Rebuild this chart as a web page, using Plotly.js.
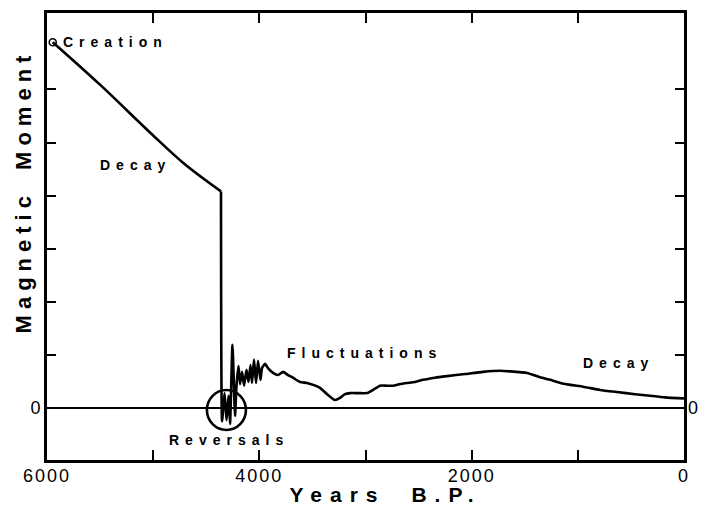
<!DOCTYPE html>
<html>
<head>
<meta charset="utf-8">
<script src="https://cdn.plot.ly/plotly-3.0.1.min.js"></script>
<style>
  html, body { margin: 0; padding: 0; background: #ffffff; }
  #plot { width: 702px; height: 508px; }
</style>
</head>
<body>
<div id="plot"></div>
<script>
// Years before present (x) and magnetic moment (y)
const years = [
  5946, 5501, 5030, 4719, 4361,
  4351, 4328, 4309, 4290, 4276, 4253, 4229,
  4215, 4196, 4182, 4163, 4144, 4121, 4102, 4083, 4069, 4050, 4031, 4012, 3989,
  3975, 3946, 3918, 3871, 3824, 3777, 3730, 3683, 3617, 3551, 3485, 3428, 3362,
  3287, 3240, 3193, 3146, 3070, 2986, 2929, 2863, 2797, 2741, 2675, 2609, 2533,
  2458, 2345, 2232, 2062, 1893, 1733, 1639, 1478, 1356, 1262, 1120, 951, 791,
  631, 461, 320, 178, 0
];
const moment = [
  6.89, 6.09, 5.19, 4.62, 4.08,
  -0.25, 0.28, -0.23, 0.23, -0.30, 1.19, -0.15,
  0.43, 0.79, 0.45, 0.68, 0.42, 0.72, 0.49, 0.81, 0.47, 0.91, 0.47, 0.89, 0.53,
  0.75, 0.83, 0.75, 0.66, 0.62, 0.68, 0.62, 0.57, 0.49, 0.47, 0.43, 0.38, 0.26,
  0.15, 0.19, 0.26, 0.28, 0.28, 0.28, 0.34, 0.42, 0.42, 0.42, 0.45, 0.47, 0.49,
  0.53, 0.57, 0.60, 0.64, 0.68, 0.70, 0.69, 0.66, 0.58, 0.53, 0.45, 0.40, 0.34,
  0.30, 0.26, 0.23, 0.20, 0.18
];
// index where the initial decay ends and the collapse begins
const decayEnd = 4;

// Axis ticks
const xTickVals = [6000, 5000, 4000, 3000, 2000, 1000, 0];
const xTickText = ['6000', '', '4000', '', '2000', '', '0'];
const yTickVals = [0, 1, 2, 3, 4, 5, 6];
const yTickText = ['0', '', '', '', '', '', ''];

// Text labels
const labels = [
  {text: 'Creation', x: 5359, y: 6.89},
  {text: 'Decay', x: 5171, y: 4.58},
  {text: 'Fluctuations', x: 3014, y: 1.04},
  {text: 'Decay', x: 621, y: 0.85},
  {text: 'Reversals', x: 4286, y: -0.60}
];
const reversalCenterYear = 4310;

const FONT = 'Liberation Sans, Arial, Helvetica, sans-serif';

const data = [
  {
    type: 'scatter', mode: 'lines',
    x: years.slice(0, decayEnd + 1), y: moment.slice(0, decayEnd + 1),
    line: {color: '#000000', width: 2.6, shape: 'spline', smoothing: 1},
    hoverinfo: 'skip', showlegend: false
  },
  {
    type: 'scatter', mode: 'lines',
    x: years.slice(decayEnd), y: moment.slice(decayEnd),
    line: {color: '#000000', width: 2.6, shape: 'spline', smoothing: 0.5},
    hoverinfo: 'skip', showlegend: false
  },
  {
    type: 'scatter', mode: 'markers',
    x: [years[0]], y: [moment[0]],
    marker: {symbol: 'circle-open', size: 7, color: '#000000', line: {width: 1.6, color: '#000000'}},
    hoverinfo: 'skip', showlegend: false
  }
];

const annotations = labels.map(l => ({
  text: l.text, x: l.x, y: l.y, xref: 'x', yref: 'y',
  xanchor: 'center', yanchor: 'middle', showarrow: false,
  font: {family: FONT, size: 14, color: '#000000', weight: 'bold'}
}));
annotations.push({
  text: '0', x: 1, y: 0, xref: 'paper', yref: 'y',
  xanchor: 'left', yanchor: 'middle', xshift: 2, showarrow: false,
  font: {family: FONT, size: 18, color: '#000000'}
});

const layout = {
  width: 702, height: 508,
  margin: {l: 47, r: 18, t: 13, b: 48, pad: 0},
  paper_bgcolor: '#ffffff', plot_bgcolor: '#ffffff',
  showlegend: false,
  xaxis: {
    range: [6000, 0],
    tickvals: xTickVals, ticktext: xTickText,
    ticks: 'inside', ticklen: 10, tickwidth: 2, tickcolor: '#000000',
    showline: true, linewidth: 3, linecolor: '#000000', mirror: 'ticks',
    showgrid: false, zeroline: false,
    ticklabelstandoff: -3,
    tickfont: {family: FONT, size: 18, color: '#000000'},
    title: {text: 'Years B.P.', font: {family: FONT, size: 21, color: '#000000', weight: 'bold'}, standoff: 6},
    automargin: false, fixedrange: true
  },
  yaxis: {
    range: [-0.98, 7.44],
    tickvals: yTickVals, ticktext: yTickText,
    ticks: 'inside', ticklen: 9, tickwidth: 2, tickcolor: '#000000',
    showline: true, linewidth: 3, linecolor: '#000000', mirror: 'ticks',
    showgrid: false, zeroline: true, zerolinecolor: '#000000', zerolinewidth: 1.4,
    tickfont: {family: FONT, size: 18, color: '#000000'},
    title: {text: 'Magnetic Moment', font: {family: FONT, size: 22, color: '#000000', weight: 'bold'}, standoff: 4},
    automargin: false, fixedrange: true
  },
  shapes: [
    {
      type: 'circle', xref: 'x', yref: 'y',
      xsizemode: 'pixel', ysizemode: 'pixel',
      xanchor: reversalCenterYear, yanchor: 0,
      x0: -19.5, x1: 19.5, y0: -22, y1: 18,
      line: {color: '#000000', width: 2.6}
    }
  ],
  annotations: annotations
};

const gd = document.getElementById('plot');
Plotly.newPlot(gd, data, layout, {staticPlot: true, displayModeBar: false}).then(() => {
  gd.querySelectorAll('.annotation-text').forEach(t => {
    if (t.textContent !== '0') t.style.letterSpacing = '6px';
  });
  gd.querySelectorAll('.xtick text').forEach(t => { t.style.letterSpacing = '2px'; });
  const xt = gd.querySelector('.xtitle');
  if (xt) { xt.style.letterSpacing = '8px'; xt.style.wordSpacing = '12px'; }
  const xg = gd.querySelector('.g-xtitle');
  if (xg) { xg.style.transform = 'translate(20px, -3px)'; }
  const yt = gd.querySelector('.ytitle');
  if (yt) { yt.style.letterSpacing = '6px'; yt.style.wordSpacing = '8px'; }
  const yg = gd.querySelector('.g-ytitle');
  if (yg) { yg.style.transform = 'translate(11px, -45px)'; }
});
</script>
</body>
</html>
